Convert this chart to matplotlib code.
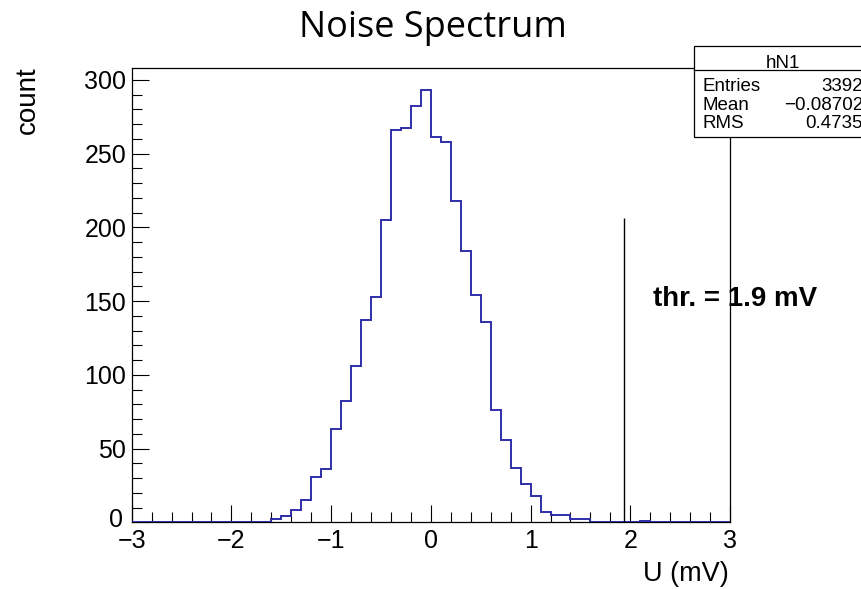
import numpy as np
import matplotlib
matplotlib.use("Agg")
import matplotlib.pyplot as plt
from matplotlib.patches import Rectangle
from matplotlib.lines import Line2D
from matplotlib.ticker import MultipleLocator, FuncFormatter

plt.rcParams["font.family"] = ["Liberation Sans", "DejaVu Sans"]

# histogram hN1: 60 bins of 0.1 mV from -3 to 3
bin_edges = np.round(np.arange(-3.0, 3.0001, 0.1), 2)
counts = [0] * 14 + [
    2, 4, 8, 15, 31, 36,             # -1.6 .. -1.1
    63, 82, 106, 137, 153,           # -1.0 .. -0.6
    205, 266, 267, 282, 293,         # -0.5 .. -0.1
    261, 258, 218, 184, 154,         #  0.0 ..  0.4
    136, 76, 56, 37, 26,             #  0.5 ..  0.9
    18, 7, 5, 5, 2, 2,               #  1.0 ..  1.5
    0, 0, 0, 0, 0, 1,                #  1.6 ..  2.1
] + [0] * 8

threshold = 1.94
threshold_top = 206
thr_label = "thr. = 1.9 mV"

stats_name = "hN1"
stats_rows = [("Entries", "3392"), ("Mean", "\u22120.08702"), ("RMS", "0.4735")]

W, H = 861, 589
fig = plt.figure(figsize=(W / 100, H / 100), dpi=100)
ax = fig.add_axes([131.7 / W, 1 - 522.3 / H, (730 - 131.7) / W, (522.3 - 68) / H])

ax.stairs(counts, bin_edges, color="#2e2ea8", lw=1.4, zorder=3)
ax.vlines(threshold, 0, threshold_top, color="black", lw=1.0, zorder=3)
ax.text(2.225, 146.5, thr_label, fontsize=20, fontweight="bold", va="baseline")

ax.set_xlim(-3, 3)
ax.set_ylim(0, 308)
ax.xaxis.set_major_locator(MultipleLocator(1))
ax.xaxis.set_minor_locator(MultipleLocator(0.2))
ax.yaxis.set_major_locator(MultipleLocator(50))
ax.yaxis.set_minor_locator(MultipleLocator(10))
# the "0" is drawn separately, lifted a bit (ROOT style) so it clears the "-3"
ax.yaxis.set_major_formatter(FuncFormatter(lambda v, p: "" if v == 0 else f"{v:g}"))
ax.tick_params(which="both", direction="in", top=False, right=False,
               width=0.8, labelsize=18)
ax.tick_params(which="major", length=12)
ax.tick_params(which="minor", length=7)
ax.tick_params(axis="x", pad=5)
ax.tick_params(axis="y", pad=4)
for s in ax.spines.values():
    s.set_linewidth(0.9)
ax.annotate("0", xy=(0, 0), xycoords=ax.get_yaxis_transform(), xytext=(-9, 5),
            textcoords="offset pixels", ha="right", va="center_baseline",
            fontsize=18, annotation_clip=False)

# titles
fig.text(432.5 / W, 1 - 37 / H, "Noise Spectrum", family=["Open Sans", "DejaVu Sans"],
         fontsize=26, ha="center", va="baseline")
fig.text(28 / W, 1 - 66 / H, "count", rotation=90, fontsize=20,
         ha="center", va="top")
fig.text(729 / W, 1 - 581 / H, "U (mV)", fontsize=19.5, ha="right", va="baseline")

# stats box
def fx(x):
    return x / W

def fy(y):
    return 1 - y / H

box = Rectangle((fx(694.3), fy(137)), fx(880) - fx(694.3), fy(45.7) - fy(137),
                transform=fig.transFigure, facecolor="white", edgecolor="black",
                lw=0.9, zorder=5)
fig.add_artist(box)
fig.add_artist(Line2D([fx(694.3), fx(880)], [fy(69.5), fy(69.5)],
                      transform=fig.transFigure, color="black", lw=0.9, zorder=6))
fig.text(fx(783), fy(67.5), stats_name, fontsize=13.5, ha="center", va="baseline", zorder=7)
for i, (k, v) in enumerate(stats_rows):
    yb = fy(90.5 + 19 * i)
    fig.text(fx(702), yb, k, fontsize=13.5, ha="left", va="baseline", zorder=7)
    fig.text(fx(863), yb, v, fontsize=13.5, ha="right", va="baseline", zorder=7)

fig.savefig("out.png", dpi=100)
